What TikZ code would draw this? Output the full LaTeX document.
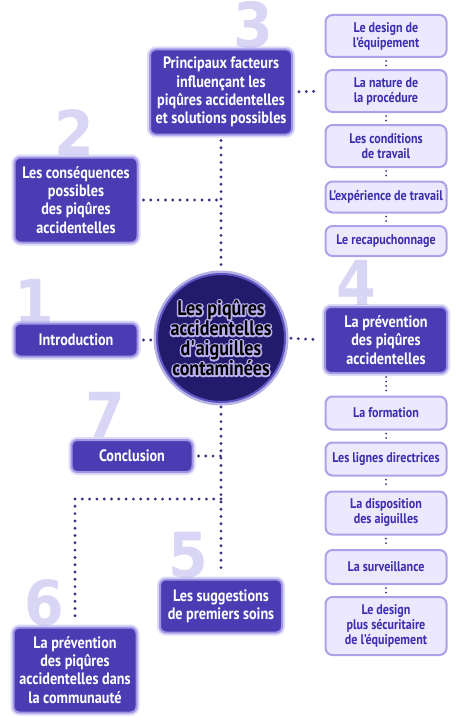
\documentclass[tikz,border=0pt]{standalone}
\usepackage{fontspec}
\setmainfont{PT Sans}[FakeStretch=0.86]
\newfontfamily\numfont{DejaVu Sans}[FakeStretch=0.92]
\definecolor{boxdark}{HTML}{4C3CB4}
\definecolor{boxglow}{HTML}{A096E6}
\definecolor{boxlight}{HTML}{ECE8FD}
\definecolor{boxedge}{HTML}{ADA2EA}
\definecolor{textlight}{HTML}{3D2DB0}
\definecolor{hubfill}{HTML}{221A6A}
\definecolor{hubglow}{HTML}{5E55C4}
\definecolor{halo}{HTML}{B8AEEE}
\definecolor{dotc}{HTML}{3C3482}
\definecolor{numc}{HTML}{D9D5F5}
% outlined text for the centre
\newcommand\halotext[1]{\rlap{\color{halo}\special{pdf:literal direct 1 Tr 3.2 w 1 j}#1\special{pdf:literal direct 0 Tr 0.4 w 0 j}}#1}

\begin{document}
\begin{tikzpicture}[x=1pt,y=-1pt,
  darkbox/.style={rounded corners=6pt,fill=boxdark,draw=boxglow,line width=2pt,preaction={draw=boxglow,line width=6pt,opacity=.35},text=white,font=\bfseries\fontsize{16.5}{18.3}\selectfont,align=center,inner sep=0pt},
  lightbox/.style={rounded corners=7pt,fill=boxlight,draw=boxedge,line width=2pt,text=textlight,font=\bfseries\fontsize{14}{15}\selectfont,align=center,inner sep=0pt,minimum width=121pt},
  num/.style={text=numc,font=\numfont\bfseries\fontsize{62}{62}\selectfont,inner sep=0pt},
  dotline/.style={draw=dotc,line width=3.2pt,line cap=round,dash pattern=on 0pt off 7.3pt},
  coldots/.style={draw=dotc,line width=2pt,line cap=round,dash pattern=on 0pt off 4.5pt}]
\path[use as bounding box] (0,0) rectangle (461,717);
% big numbers behind the boxes
\node[num] (n1) at (34,302) {1};
\node[num] (n2) at (74,132) {2};
\node[num] (n3) at (253,25) {3};
\node[num] (n4) at (356,283) {4};
\node[num] (n5) at (188,555) {5};
\node[num] (n6) at (44,603) {6};
\node[num] (n7) at (105,415) {7};
% main topics
\node[darkbox,minimum width=142pt,minimum height=85pt] (factors) at (221,92) {Principaux facteurs\\influençant les\\piqûres accidentelles\\et solutions possibles};
\node[darkbox,minimum width=123pt,minimum height=85pt] (conseq) at (76,200) {Les conséquences\\possibles\\des piqûres\\accidentelles};
\node[darkbox,minimum width=123pt,minimum height=33pt] (intro) at (76,340) {Introduction};
\node[darkbox,minimum width=122pt,minimum height=66pt] (prev) at (386,340) {La prévention\\des piqûres\\accidentelles};
\node[darkbox,minimum width=121pt,minimum height=32pt] (concl) at (132,456) {Conclusion};
\node[darkbox,minimum width=122pt,minimum height=53pt] (soins) at (221,606) {Les suggestions\\de premiers soins};
\node[darkbox,minimum width=123pt,minimum height=85pt] (commu) at (75,670) {La prévention\\des piqûres\\accidentelles dans\\la communauté};
% centre
\node[circle,minimum size=128pt,fill=hubfill,draw=hubglow,line width=2pt,preaction={draw=hubglow,line width=7pt,opacity=.45},font=\bfseries\fontsize{21}{20}\selectfont,align=center,inner sep=0pt] (hub) at (221,338) {\halotext{Les piqûres}\\\halotext{accidentelles}\\\halotext{d\textquotesingle aiguilles}\\\halotext{contaminées}};
% sub topics
\node[lightbox,minimum height=42pt] (design) at (386,36) {Le design de\\l’équipement};
\node[lightbox,minimum height=42pt] (nature) at (386,91) {La nature de\\la procédure};
\node[lightbox,minimum height=42pt] (cond) at (386,146) {Les conditions\\de travail};
\node[lightbox,minimum height=31pt] (exper) at (386,197) {L’expérience de travail};
\node[lightbox,minimum height=30pt] (recap) at (386,241) {Le recapuchonnage};
\node[lightbox,minimum height=33pt] (form) at (386,413) {La formation};
\node[lightbox,minimum height=33pt] (lignes) at (386,459) {Les lignes directrices};
\node[lightbox,minimum height=43pt] (dispo) at (386,513) {La disposition\\des aiguilles};
\node[lightbox,minimum height=34pt] (surv) at (386,567) {La surveillance};
\node[lightbox,minimum height=58pt] (secur) at (386,626) {Le design\\plus sécuritaire\\de l’équipement};
% dotted links
\draw[dotline,shorten <=5pt,shorten >=4pt] (factors.south) -- (hub.north);
\coordinate (tee) at (factors.south |- conseq.east);
\draw[dotline,shorten <=5pt] (conseq.east) -- (tee);
\draw[dotline,shorten <=6pt,shorten >=4pt] (factors.east) -- (nature.west);
\draw[dotline,shorten <=5pt,shorten >=4pt] (intro.east) -- (intro.east -| hub.west);
\draw[dotline,shorten <=5pt,shorten >=4pt] (hub.east) -- (prev.west);
\draw[dotline,shorten <=4pt,shorten >=4pt] (hub.south) -- (soins.north);
\draw[dotline,shorten <=5pt] (concl.east) -- (concl.east -| hub.south);
\coordinate (split) at (hub.south |- 0,499);
\draw[dotline,shorten >=4pt] (split) -- (split -| commu.north) -- (commu.north);
\foreach \a/\b in {design/nature,nature/cond,cond/exper,exper/recap,prev/form,form/lignes,lignes/dispo,dispo/surv,surv/secur}
  \draw[coldots,shorten <=3pt,shorten >=3pt] (\a.south) -- (\b.north);
\end{tikzpicture}
\end{document}
